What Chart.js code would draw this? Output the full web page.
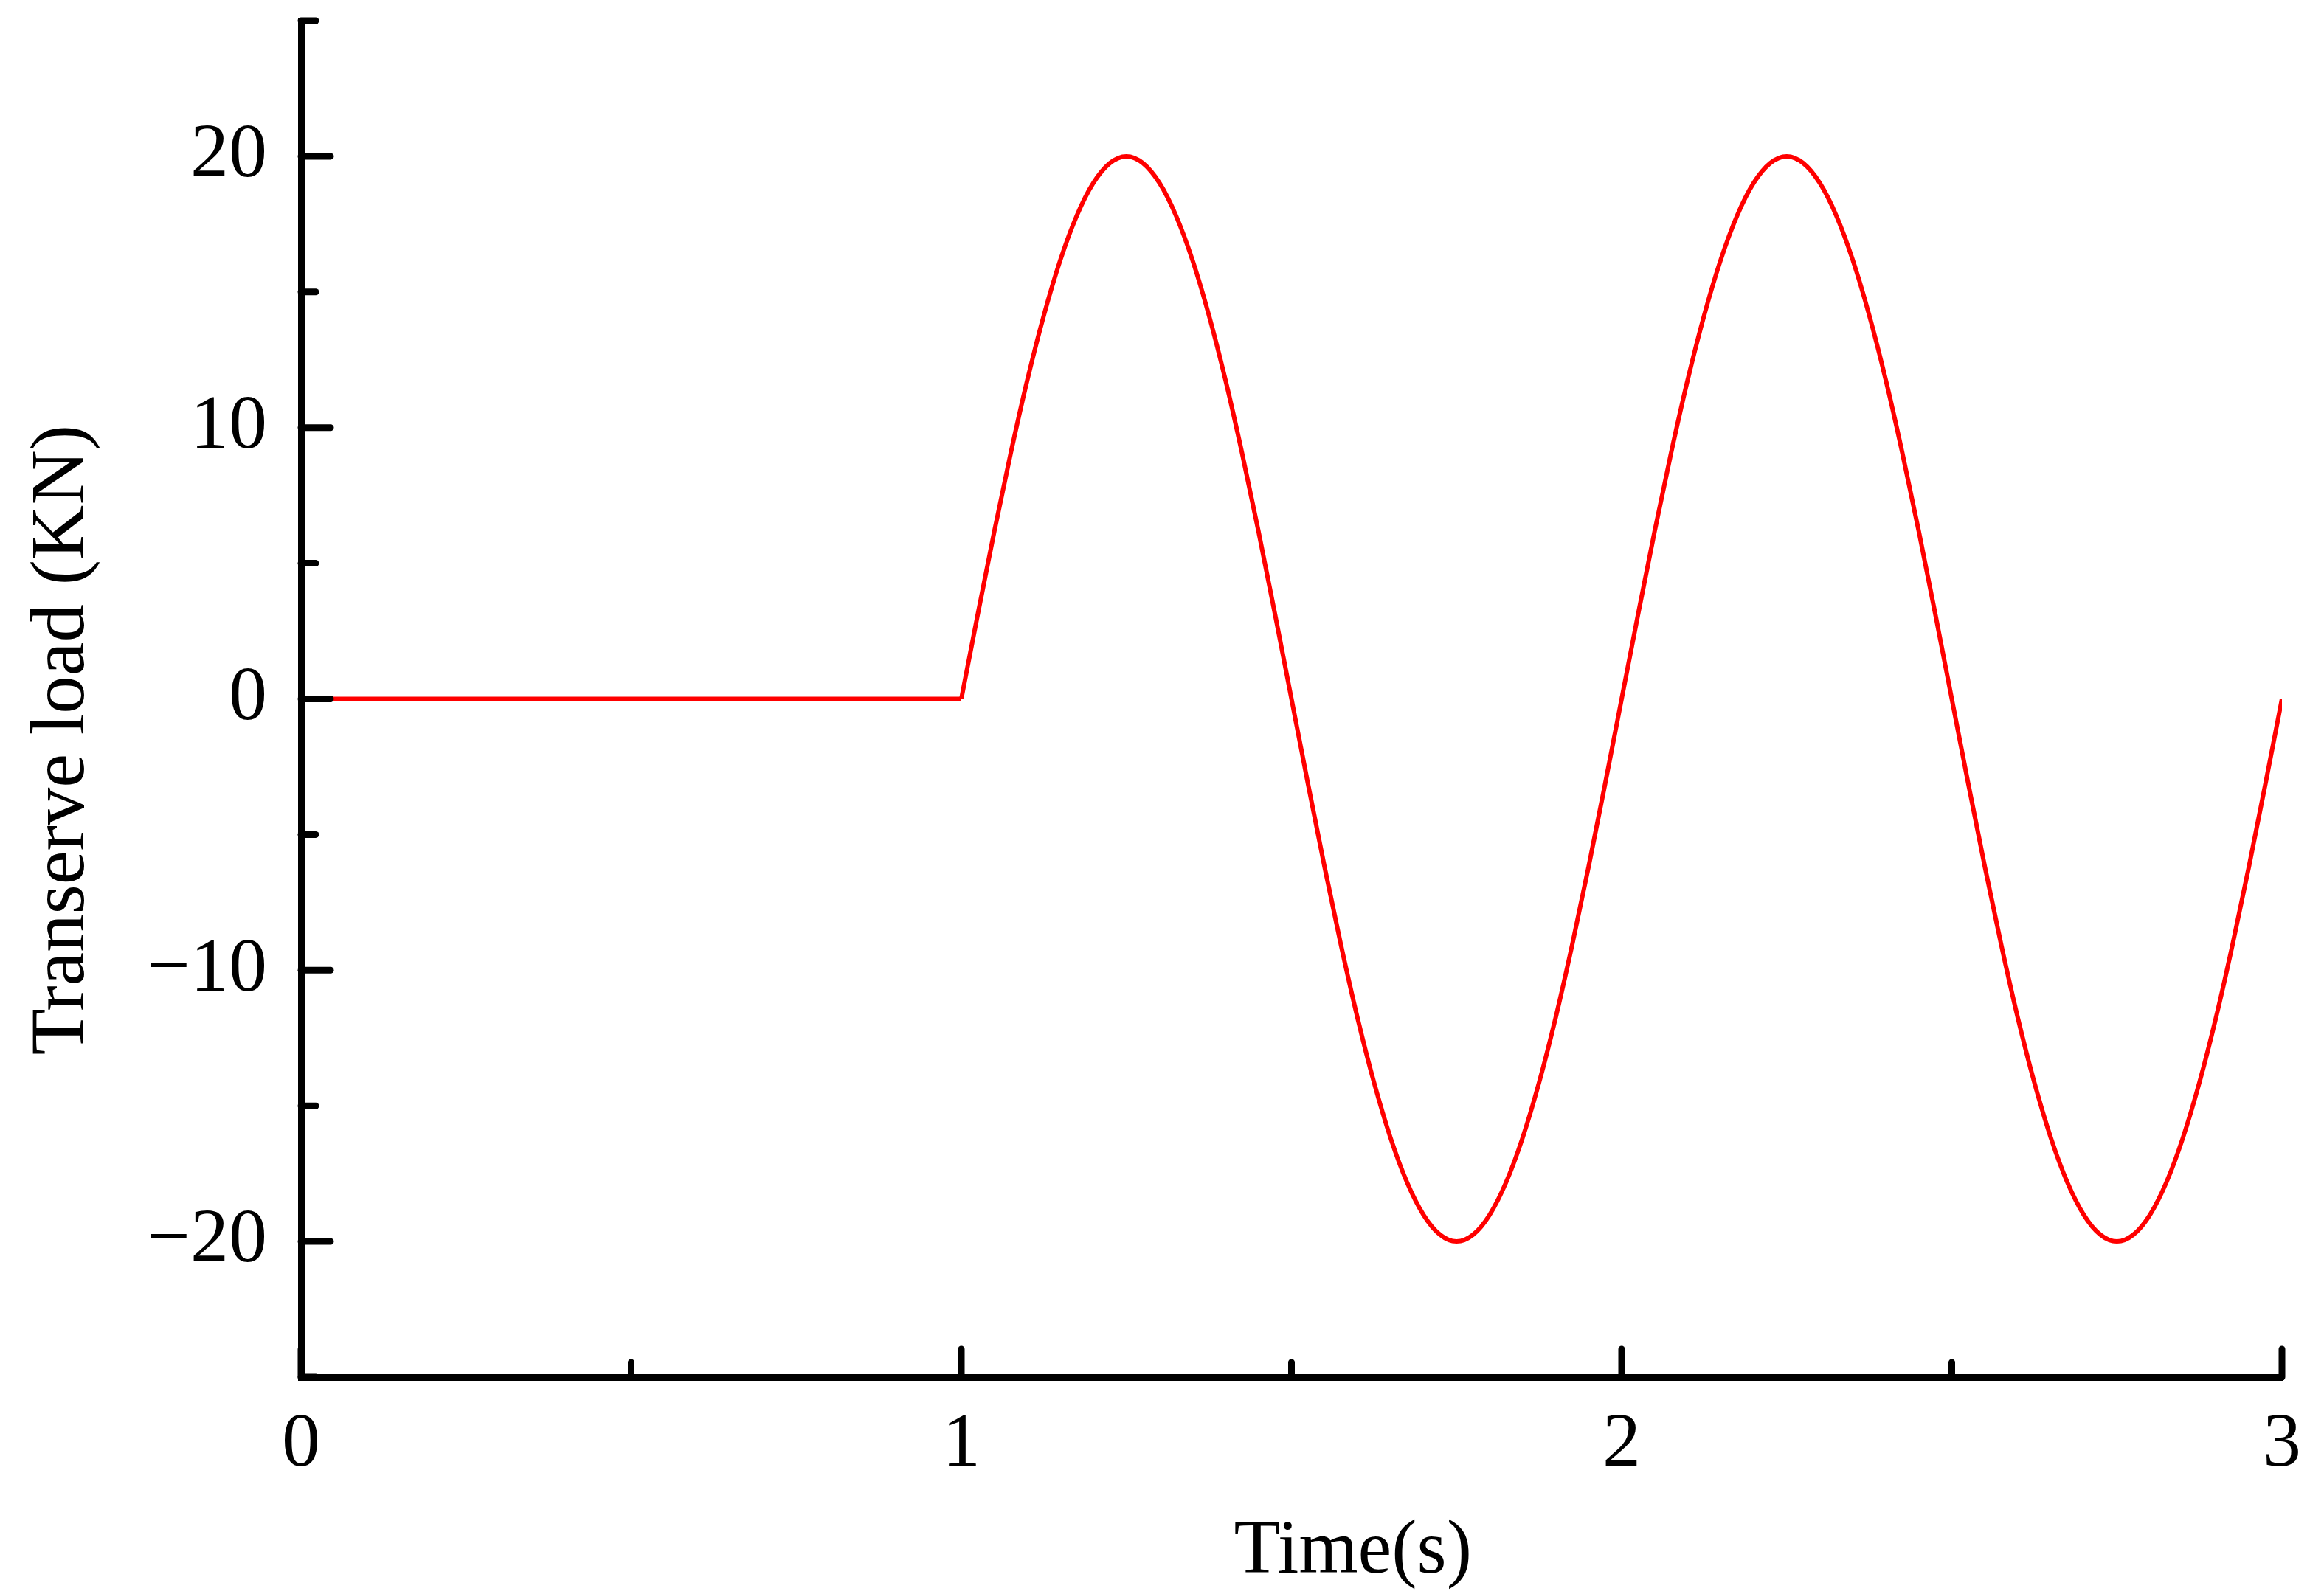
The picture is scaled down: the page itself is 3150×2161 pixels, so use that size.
<!DOCTYPE html>
<html>
<head>
<meta charset="utf-8">
<script src="https://cdn.jsdelivr.net/npm/chart.js@4.4.1/dist/chart.umd.min.js"></script>
<style>
  html, body { margin: 0; padding: 0; background: #fff; }
  #wrap { width: 3150px; height: 2161px; }
</style>
</head>
<body>
<div id="wrap"><canvas id="c" width="3150" height="2161"></canvas></div>
<script>
// ---- data ----
const times = [0, 1,
  1.025, 1.05, 1.075, 1.1, 1.125, 1.15, 1.175, 1.2, 1.225, 1.25,
  1.275, 1.3, 1.325, 1.35, 1.375, 1.4, 1.425, 1.45, 1.475, 1.5,
  1.525, 1.55, 1.575, 1.6, 1.625, 1.65, 1.675, 1.7, 1.725, 1.75,
  1.775, 1.8, 1.825, 1.85, 1.875, 1.9, 1.925, 1.95, 1.975, 2,
  2.025, 2.05, 2.075, 2.1, 2.125, 2.15, 2.175, 2.2, 2.225, 2.25,
  2.275, 2.3, 2.325, 2.35, 2.375, 2.4, 2.425, 2.45, 2.475, 2.5,
  2.525, 2.55, 2.575, 2.6, 2.625, 2.65, 2.675, 2.7, 2.725, 2.75,
  2.775, 2.8, 2.825, 2.85, 2.875, 2.9, 2.925, 2.95, 2.975, 3];
const loads = [0, 0,
  3.13, 6.18, 9.08, 11.76, 14.14, 16.18, 17.82, 19.02, 19.75, 20,
  19.75, 19.02, 17.82, 16.18, 14.14, 11.76, 9.08, 6.18, 3.13, 0,
  -3.13, -6.18, -9.08, -11.76, -14.14, -16.18, -17.82, -19.02, -19.75, -20,
  -19.75, -19.02, -17.82, -16.18, -14.14, -11.76, -9.08, -6.18, -3.13, 0,
  3.13, 6.18, 9.08, 11.76, 14.14, 16.18, 17.82, 19.02, 19.75, 20,
  19.75, 19.02, 17.82, 16.18, 14.14, 11.76, 9.08, 6.18, 3.13, 0,
  -3.13, -6.18, -9.08, -11.76, -14.14, -16.18, -17.82, -19.02, -19.75, -20,
  -19.75, -19.02, -17.82, -16.18, -14.14, -11.76, -9.08, -6.18, -3.13, 0];
const loadStartIndex = 1; // index in times where the sinusoidal load begins
const xMajorTicks = [0, 1, 2, 3];
const xMinorTicks = [0.5, 1.5, 2.5];
const yMajorTicks = [-20, -10, 0, 10, 20];
const yMinorTicks = [-25, -15, -5, 5, 15, 25];
const xTitle = 'Time(s)';
const yTitle = 'Transerve load (KN)';

const FONT = '"Liberation Serif", "Times New Roman", serif';

const tickPlugin = {
  id: 'inwardTicks',
  afterDraw(chart) {
    const ctx = chart.ctx;
    const xs = chart.scales.x, ys = chart.scales.y;
    const ca = chart.chartArea;
    ctx.save();
    ctx.strokeStyle = '#000';
    ctx.lineWidth = 9;
    ctx.lineCap = 'round';
    const yTick = (v, len) => {
      const p = ys.getPixelForValue(v);
      ctx.beginPath(); ctx.moveTo(ca.left, p); ctx.lineTo(ca.left + len, p); ctx.stroke();
    };
    const xTick = (v, len) => {
      const p = xs.getPixelForValue(v);
      ctx.beginPath(); ctx.moveTo(p, ca.bottom); ctx.lineTo(p, ca.bottom - len); ctx.stroke();
    };
    yMajorTicks.forEach(v => yTick(v, 40));
    yMinorTicks.forEach(v => yTick(v, 20));
    xMajorTicks.forEach(v => xTick(v, 38));
    xMinorTicks.forEach(v => xTick(v, 20));
    // titles
    ctx.fillStyle = '#000';
    ctx.font = '103px ' + FONT;
    ctx.textAlign = 'center';
    ctx.textBaseline = 'alphabetic';
    ctx.fillText(xTitle, ca.left + (ca.right - ca.left) * 0.531, 2132);
    ctx.translate(86, 1003);
    ctx.rotate(-Math.PI / 2);
    ctx.textBaseline = 'middle';
    ctx.fillText(yTitle, 0, 0);
    ctx.restore();
  }
};

const minusFmt = v => (v < 0 ? '\u2212' + Math.abs(v) : String(v));
const pts = times.map((t, i) => ({ x: t, y: loads[i] }));

new Chart(document.getElementById('c'), {
  type: 'line',
  data: {
    datasets: [{
      data: pts.slice(0, loadStartIndex + 1),
      borderColor: '#ff0000',
      borderWidth: 6,
      pointRadius: 0,
      tension: 0,
      fill: false
    }, {
      data: pts.slice(loadStartIndex),
      borderColor: '#ff0000',
      borderWidth: 6,
      pointRadius: 0,
      cubicInterpolationMode: 'monotone',
      fill: false
    }]
  },
  options: {
    responsive: false,
    animation: false,
    devicePixelRatio: 1,
    layout: { padding: { top: 28, right: 57, left: 0, bottom: 0 } },
    plugins: { legend: { display: false }, tooltip: { enabled: false } },
    scales: {
      x: {
        type: 'linear',
        min: 0, max: 3,
        afterBuildTicks: s => { s.ticks = xMajorTicks.map(v => ({ value: v })); },
        afterFit: s => { s.height = 294; s.paddingLeft = 0; s.paddingRight = 0; },
        grid: { display: false, drawTicks: false },
        border: { display: true, color: '#000', width: 9 },
        ticks: {
          color: '#000',
          font: { family: FONT, size: 104 },
          padding: 30,
          maxRotation: 0,
          callback: v => minusFmt(v)
        }
      },
      y: {
        type: 'linear',
        min: -25, max: 25,
        afterBuildTicks: s => { s.ticks = yMajorTicks.map(v => ({ value: v })); },
        afterFit: s => { s.width = 408; s.paddingTop = 0; s.paddingBottom = 0; },
        grid: { display: false, drawTicks: false },
        border: { display: true, color: '#000', width: 9 },
        ticks: {
          color: '#000',
          font: { family: FONT, size: 104 },
          padding: 46,
          callback: v => minusFmt(v)
        }
      }
    }
  },
  plugins: [tickPlugin]
});
</script>
</body>
</html>
